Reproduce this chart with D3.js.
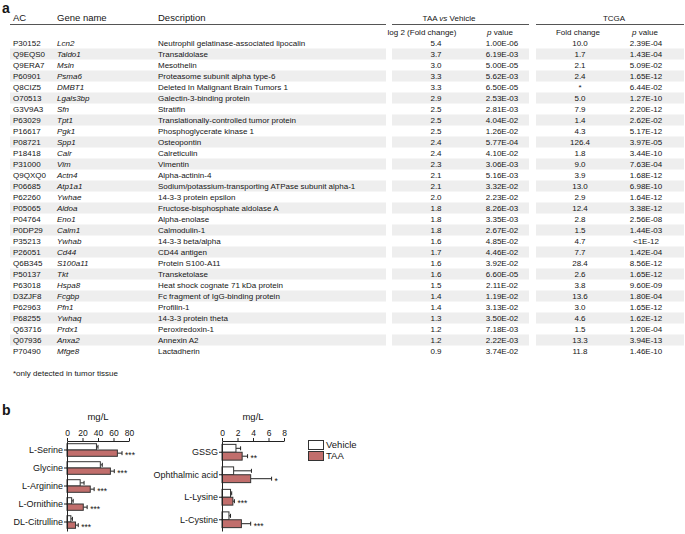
<!DOCTYPE html>
<html>
<head>
<meta charset="utf-8">
<script src="https://cdn.jsdelivr.net/npm/d3@7"></script>
<style>
  body { margin: 0; background: #fff; }
  svg { font-family: "Liberation Sans", Arial, sans-serif; fill: #151515; }
</style>
</head>
<body>
<script>
// ---- table a ----
const acs = ["P30152", "Q9EQS0", "Q9ERA7", "P60901", "Q8CIZ5", "O70513", "G3V9A3", "P63029", "P16617", "P08721",
  "P18418", "P31000", "Q9QXQ0", "P06685", "P62260", "P05065", "P04764", "P0DP29", "P35213", "P26051",
  "Q6B345", "P50137", "P63018", "D3ZJF8", "P62963", "P68255", "Q63716", "Q07936", "P70490"];
const genes = ["Lcn2", "Taldo1", "Msln", "Psma6", "DMBT1", "Lgals3bp", "Sfn", "Tpt1", "Pgk1", "Spp1",
  "Calr", "Vim", "Actn4", "Atp1a1", "Ywhae", "Aldoa", "Eno1", "Calm1", "Ywhab", "Cd44",
  "S100a11", "Tkt", "Hspa8", "Fcgbp", "Pfn1", "Ywhaq", "Prdx1", "Anxa2", "Mfge8"];
const descriptions = ["Neutrophil gelatinase-associated lipocalin", "Transaldolase", "Mesothelin",
  "Proteasome subunit alpha type-6", "Deleted In Malignant Brain Tumors 1", "Galectin-3-binding protein",
  "Stratifin", "Translationally-controlled tumor protein", "Phosphoglycerate kinase 1", "Osteopontin",
  "Calreticulin", "Vimentin", "Alpha-actinin-4", "Sodium/potassium-transporting ATPase subunit alpha-1",
  "14-3-3 protein epsilon", "Fructose-bisphosphate aldolase A", "Alpha-enolase", "Calmodulin-1",
  "14-3-3 beta/alpha", "CD44 antigen", "Protein S100-A11", "Transketolase", "Heat shock cognate 71 kDa protein",
  "Fc fragment of IgG-binding protein", "Profilin-1", "14-3-3 protein theta", "Peroxiredoxin-1",
  "Annexin A2", "Lactadherin"];
const log2Fold = [5.4, 3.7, 3.0, 3.3, 3.3, 2.9, 2.5, 2.5, 2.5, 2.4, 2.4, 2.3, 2.1, 2.1, 2.0,
  1.8, 1.8, 1.8, 1.6, 1.7, 1.6, 1.6, 1.5, 1.4, 1.4, 1.3, 1.2, 1.2, 0.9];
const taaP = ["1.00E-06", "6.19E-03", "5.00E-05", "5.62E-03", "6.50E-05", "2.53E-03", "2.81E-03", "4.04E-02",
  "1.26E-02", "5.77E-04", "4.10E-02", "3.06E-03", "5.16E-03", "3.32E-02", "2.23E-02", "8.26E-03", "3.35E-03",
  "2.67E-02", "4.85E-02", "4.46E-02", "3.92E-02", "6.60E-05", "2.11E-02", "1.19E-02", "3.13E-02", "3.50E-02",
  "7.18E-03", "2.22E-03", "3.74E-02"];
const tcgaFold = [10.0, 1.7, 2.1, 2.4, null, 5.0, 7.9, 1.4, 4.3, 126.4, 1.8, 9.0, 3.9, 13.0, 2.9,
  12.4, 2.8, 1.5, 4.7, 7.7, 28.4, 2.6, 3.8, 13.6, 3.0, 4.6, 1.5, 13.3, 11.8];
const tcgaP = ["2.39E-04", "1.43E-04", "5.09E-02", "1.65E-12", "6.44E-02", "1.27E-10", "2.20E-12", "2.62E-02",
  "5.17E-12", "3.97E-05", "3.44E-10", "7.63E-04", "1.68E-12", "6.98E-10", "1.64E-12", "3.38E-12", "2.56E-08",
  "1.44E-03", "<1E-12", "1.42E-04", "8.56E-12", "1.65E-12", "9.60E-09", "1.80E-04", "1.65E-12", "1.62E-12",
  "1.20E-04", "3.94E-13", "1.46E-10"];

// ---- panel b ----
const aminoCats = ["L-Serine", "Glycine", "L-Arginine", "L-Ornithine", "DL-Citrulline"];
const aminoVehicle = [38, 43, 17, 6, 5];
const aminoVehicleErr = [2, 2.5, 5, 2, 2];
const aminoTAA = [65, 56, 30, 21, 11];
const aminoTAAErr = [6, 5, 5, 5, 3.5];
const aminoStars = ["***", "***", "***", "***", "***"];
const aminoTicks = [0, 20, 40, 60, 80];

const otherCats = ["GSSG", "Ophthalmic acid", "L-Lysine", "L-Cystine"];
const otherVehicle = [1.8, 1.5, 1.1, 0.9];
const otherVehicleErr = [0.6, 2.3, 0.15, 0.2];
const otherTAA = [2.6, 3.7, 1.4, 2.5];
const otherTAAErr = [0.7, 2.7, 0.2, 1.2];
const otherStars = ["**", "*", "***", "***"];
const otherTicks = [0, 2, 4, 6, 8];

const groups = ["Vehicle", "TAA"];
const groupFill = { Vehicle: "#ffffff", TAA: "#c16e6c" };

const width = 685, height = 534;
const svg = d3.select("body").append("svg")
  .attr("width", width)
  .attr("height", height);

drawTable();
drawPanelB();

// draws the protein table (panel a)
function drawTable() {
  const n = acs.length;
  const rowH = 11;
  const y = d3.scaleBand().domain(d3.range(n)).range([37.5, 37.5 + n * rowH]);
  const blocks = [[10, 386], [392, 529], [536, 684]];

  svg.append("text").attr("x", 2).attr("y", 13)
    .attr("font-size", 14).attr("font-weight", "bold").text("a");

  // shaded rows
  const shade = svg.append("g");
  d3.range(n).filter(i => i % 2 === 1).forEach(i => {
    blocks.forEach(b => {
      shade.append("rect")
        .attr("x", b[0]).attr("y", y(i))
        .attr("width", b[1] - b[0]).attr("height", y.bandwidth())
        .attr("fill", "#eeeeee");
    });
  });

  // header lines
  blocks.forEach(b => {
    svg.append("line")
      .attr("x1", b[0]).attr("x2", b[1])
      .attr("y1", 24.5).attr("y2", 24.5)
      .attr("stroke", "#555").attr("stroke-width", 1);
  });

  const head = svg.append("g").attr("font-size", 9.5);
  head.append("text").attr("x", 13).attr("y", 21).text("AC");
  head.append("text").attr("x", 57).attr("y", 21).text("Gene name");
  head.append("text").attr("x", 158).attr("y", 21).text("Description");

  const head2 = svg.append("g").attr("font-size", 8).attr("text-anchor", "middle");
  let t = head2.append("text").attr("x", 449).attr("y", 21);
  t.append("tspan").text("TAA ");
  t.append("tspan").attr("font-style", "italic").text("vs");
  t.append("tspan").text(" Vehicle");
  head2.append("text").attr("x", 614).attr("y", 21).text("TCGA");
  head2.append("text").attr("x", 422).attr("y", 35).text("log 2 (Fold change)");
  [500, 645].forEach(x => {
    const p = head2.append("text").attr("x", x).attr("y", 35);
    p.append("tspan").attr("font-style", "italic").text("p");
    p.append("tspan").text(" value");
  });
  head2.append("text").attr("x", 578).attr("y", 35).text("Fold change");

  const body = svg.append("g").attr("font-size", 8);
  const rows = body.selectAll("g.row").data(d3.range(n)).join("g")
    .attr("class", "row")
    .attr("transform", i => `translate(0,${y(i) + y.bandwidth() / 2})`);
  const f1 = d3.format(".1f");
  rows.append("text").attr("x", 13).attr("dy", "0.35em").text(i => acs[i]);
  rows.append("text").attr("x", 57).attr("dy", "0.35em").attr("font-style", "italic").text(i => genes[i]);
  rows.append("text").attr("x", 158).attr("dy", "0.35em").text(i => descriptions[i]);
  rows.append("text").attr("x", 436).attr("dy", "0.35em").attr("text-anchor", "middle").text(i => f1(log2Fold[i]));
  rows.append("text").attr("x", 502).attr("dy", "0.35em").attr("text-anchor", "middle").text(i => taaP[i]);
  rows.append("text").attr("x", 580).attr("dy", "0.35em").attr("text-anchor", "middle")
    .text(i => tcgaFold[i] === null ? "*" : f1(tcgaFold[i]));
  rows.append("text").attr("x", 646).attr("dy", "0.35em").attr("text-anchor", "middle").text(i => tcgaP[i]);

  svg.append("text").attr("x", 13).attr("y", y(n - 1) + 30)
    .attr("font-size", 8).text("*only detected in tumor tissue");
}

// draws the two bar charts and legend (panel b)
function drawPanelB() {
  svg.append("text").attr("x", 2).attr("y", 415)
    .attr("font-size", 14).attr("font-weight", "bold").text("b");

  drawBars(aminoCats, aminoVehicle, aminoVehicleErr, aminoTAA, aminoTAAErr, aminoStars, aminoTicks, [67, 129]);
  drawBars(otherCats, otherVehicle, otherVehicleErr, otherTAA, otherTAAErr, otherStars, otherTicks, [222, 284]);

  // legend
  const legend = svg.append("g").attr("transform", "translate(308,440)");
  groups.forEach((gname, i) => {
    legend.append("rect")
      .attr("x", 0.5).attr("y", i * 11 + 0.5)
      .attr("width", 15).attr("height", 9)
      .attr("fill", groupFill[gname]).attr("stroke", "#333");
    legend.append("text")
      .attr("x", 18).attr("y", i * 11 + 5)
      .attr("dy", "0.35em").attr("font-size", 9.5).text(gname);
  });
}

function drawBars(cats, veh, vehErr, taa, taaErr, stars, ticks, xRange) {
  const top = 441, bottom = 531;
  const x = d3.scaleLinear().domain([ticks[0], ticks[ticks.length - 1]]).range(xRange);
  const y = d3.scaleBand().domain(cats).range([top, bottom]).paddingInner(0.3).paddingOuter(0.15);
  const sub = d3.scaleBand().domain(groups).range([0, y.bandwidth()]);
  const g = svg.append("g");

  const vals = { Vehicle: veh, TAA: taa };
  const errs = { Vehicle: vehErr, TAA: taaErr };

  cats.forEach((c, i) => {
    groups.forEach(gname => {
      const y0 = y(c) + sub(gname);
      const v = vals[gname][i], e = errs[gname][i];
      const cy = y0 + sub.bandwidth() / 2;
      // error bar with cap
      g.append("line")
        .attr("x1", x(v)).attr("x2", x(v + e))
        .attr("y1", cy).attr("y2", cy)
        .attr("stroke", "#222").attr("stroke-width", 1);
      g.append("line")
        .attr("x1", x(v + e)).attr("x2", x(v + e))
        .attr("y1", cy - 2).attr("y2", cy + 2)
        .attr("stroke", "#222").attr("stroke-width", 1);
      g.append("rect")
        .attr("x", x(0)).attr("y", y0)
        .attr("width", x(v) - x(0)).attr("height", sub.bandwidth())
        .attr("fill", groupFill[gname])
        .attr("stroke", "#333").attr("stroke-width", 1);
      if (gname === "TAA") {
        g.append("text")
          .attr("x", x(v + e) + 3).attr("y", cy)
          .attr("dy", "0.62em").attr("font-size", 8.5)
          .text(stars[i]);
      }
    });
  });

  // axes
  const xAxis = g.append("g")
    .attr("transform", `translate(0,${top})`)
    .call(d3.axisTop(x).tickValues(ticks).tickSize(3).tickSizeOuter(0).tickPadding(2));
  xAxis.selectAll("text").attr("font-size", 8.5).attr("fill", "#151515");

  const yAxis = g.append("g")
    .attr("transform", `translate(${xRange[0]},0)`)
    .call(d3.axisLeft(y).tickSize(3).tickSizeOuter(0).tickPadding(1));
  yAxis.selectAll("text").attr("font-size", 9).attr("fill", "#151515");
  g.selectAll(".domain, .tick line").attr("stroke", "#222");
  g.selectAll("g").attr("font-family", null);

  g.append("text")
    .attr("x", (xRange[0] + xRange[1]) / 2).attr("y", 420)
    .attr("text-anchor", "middle").attr("font-size", 9.5).text("mg/L");
}
</script>
</body>
</html>
